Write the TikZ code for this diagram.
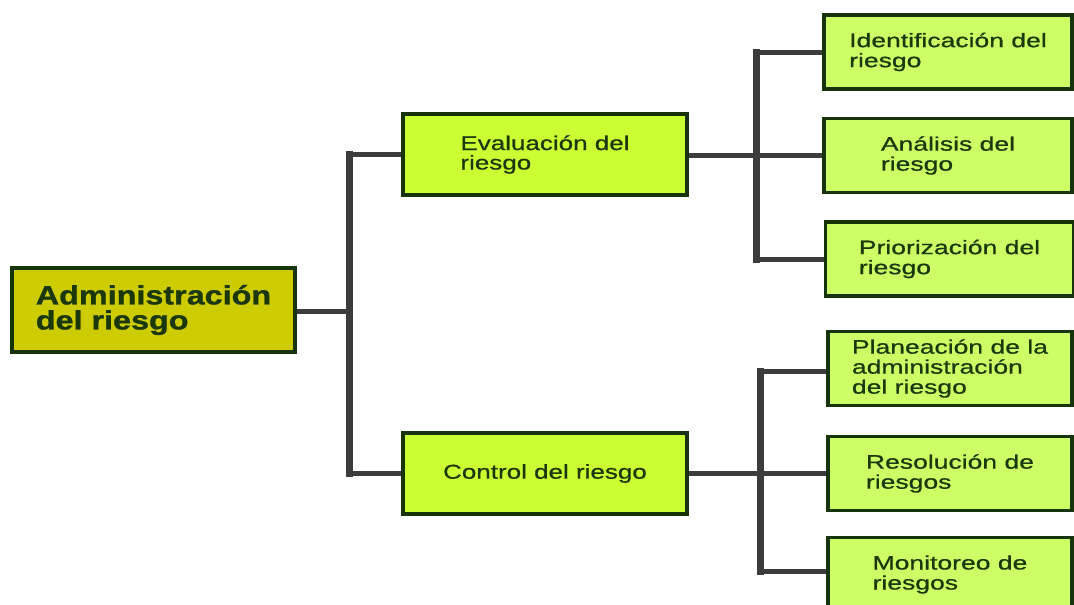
\documentclass[tikz,border=0pt]{standalone}
\usepackage{fontspec}
\setmainfont{Liberation Sans}
% wide sans faces used in the boxes
\newfontfamily\rootface[FakeStretch=1.22, FakeBold=1.2]{Liberation Sans Bold}
\newfontfamily\midface[FakeStretch=1.3, FakeBold=0.7]{Liberation Sans}
\newfontfamily\leafface[FakeStretch=1.36, FakeBold=0.7]{Liberation Sans}
\definecolor{rootfill}{HTML}{CCCC00}
\definecolor{midfill}{HTML}{CCFF33}
\definecolor{leaffill}{HTML}{CCFF66}
\definecolor{boxline}{HTML}{17330A}
\definecolor{boxtext}{HTML}{1A380C}
\definecolor{wire}{HTML}{3C3C3C}
\tikzset{
  box/.style={draw=boxline, line width=3.5pt, rectangle, inner sep=0pt,
              text=boxtext, align=left, anchor=center},
  rootbox/.style={box, fill=rootfill, minimum width=283pt, minimum height=84pt,
              font=\rootface\fontsize{26.5}{25}\selectfont},
  midbox/.style={box, fill=midfill, minimum width=284pt, minimum height=81pt,
              font=\midface\fontsize{20}{19.5}\selectfont},
  leafbox/.style={box, fill=leaffill, minimum width=248pt, minimum height=74pt,
              font=\leafface\fontsize{19.5}{20}\selectfont},
  hwire/.style={draw=wire, line width=5pt},
  vwire/.style={draw=wire, line width=7pt, line cap=rect},
}
\begin{document}
\begin{tikzpicture}[x=1pt, y=-1pt]
\clip (0,0) rectangle (1074,605);
\fill[white] (0,0) rectangle (1074,605);

% root and the two main branches
\node[rootbox] (root) at (153.5,310) {Administración\\del riesgo};
\node[midbox] (eval) at (545,154.5) {Evaluación del\\riesgo};
\node[midbox] (ctrl) at (545,473.5) {Control del riesgo};

% leaves of the evaluation branch
\node[leafbox] (ident) at (948,52) {Identificación del\\riesgo};
\node[leafbox] (anal) at (948,155.5) {Análisis del\\riesgo};
\node[leafbox] (prio) at (949.5,259) {Priorización del\\riesgo};

% leaves of the control branch
\node[leafbox, minimum width=244pt] (plan) at (950,368.5) {Planeación de la\\administración\\del riesgo};
\node[leafbox, minimum width=244pt] (reso) at (950,473.5) {Resolución de\\riesgos};
\node[leafbox, minimum width=244pt] (moni) at (950,574.5) {Monitoreo de\\riesgos};

% junction points of the tree
\coordinate (j0) at (349,311);
\coordinate (j1) at (756,155);
\coordinate (j2) at (760,473);
\coordinate (j2top) at (760,371);
\coordinate (j2bot) at (760,571);

% root to the main branches
\draw[hwire] (root.east |- j0) -- (j0);
\draw[vwire] (j0 |- eval.west) -- (j0 |- ctrl.west);
\draw[hwire] (j0 |- eval.west) -- (eval.west);
\draw[hwire] (j0 |- ctrl.west) -- (ctrl.west);

% evaluation branch to its leaves
\draw[vwire] (j1 |- ident.west) -- (j1 |- prio.west);
\draw[hwire] (eval.east |- j1) -- (anal.west |- j1);
\draw[hwire] (j1 |- ident.west) -- (ident.west);
\draw[hwire] (j1 |- prio.west) -- (prio.west);

% control branch to its leaves
\draw[vwire] (j2top) -- (j2bot);
\draw[hwire] (ctrl.east |- j2) -- (reso.west |- j2);
\draw[hwire] (j2top) -- (plan.west |- j2top);
\draw[hwire] (j2bot) -- (moni.west |- j2bot);
\end{tikzpicture}
\end{document}
